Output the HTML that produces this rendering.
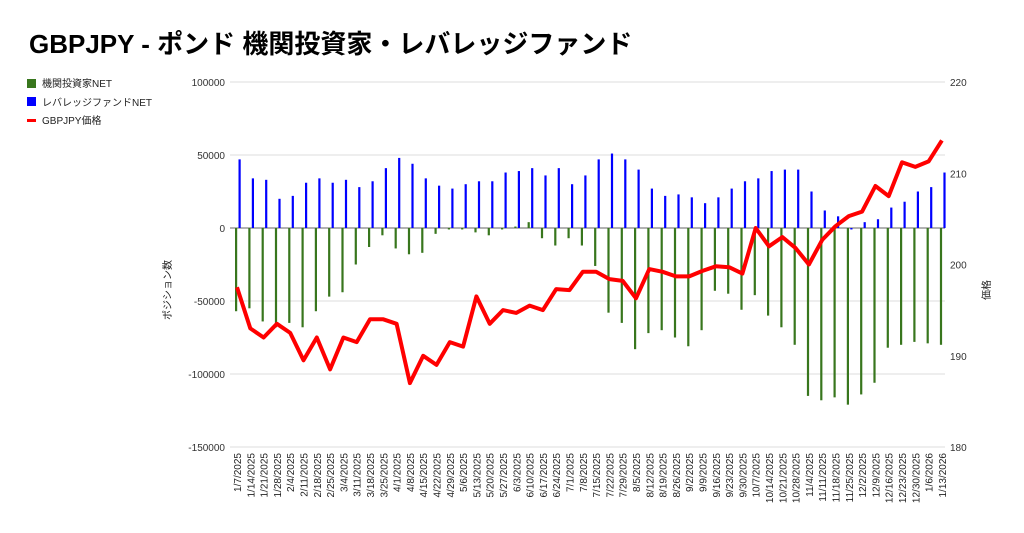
<!DOCTYPE html>
<html><head><meta charset="utf-8"><style>
body{margin:0;background:#fff;width:1024px;height:528px;overflow:hidden;font-family:"Liberation Sans","Noto Sans CJK JP",sans-serif}
</style></head><body>
<svg id="c" width="1024" height="528" xmlns="http://www.w3.org/2000/svg" style="font-family:'Liberation Sans','Noto Sans CJK JP',sans-serif">
<text x="29" y="53" font-size="26" font-weight="bold" fill="#000">GBPJPY - ポンド 機関投資家・レバレッジファンド</text>
<rect x="27" y="79" width="9" height="9" fill="#38761d"/>
<text x="42" y="87" font-size="10" fill="#222">機関投資家NET</text>
<rect x="27" y="97" width="9" height="9" fill="#0000ff"/>
<text x="42" y="106" font-size="10" fill="#222">レバレッジファンドNET</text>
<rect x="27" y="119" width="9" height="3" fill="#ff0000"/>
<text x="42" y="124" font-size="10" fill="#222">GBPJPY価格</text>
<text transform="translate(171,290) rotate(-90)" text-anchor="middle" font-size="10" fill="#222">ポジション数</text>
<text transform="translate(990,290) rotate(-90)" text-anchor="middle" font-size="10" fill="#222">価格</text>
<g id="g"></g>
</svg>
<script>
var g=document.getElementById('g'),s='';
function Y(v){return 228-v*73/50000}
function P(p){return 82+(220-p)*91.25/10}
[100000,50000,0,-50000,-100000,-150000].forEach(function(v){
 s+='<line x1="230" x2="945" y1="'+Y(v)+'" y2="'+Y(v)+'" stroke="'+(v==0?'#666':'#ddd')+'" stroke-width="1"/>';
 s+='<text x="225" y="'+(Y(v)+4)+'" text-anchor="end" font-size="10" fill="#333">'+v+'</text>';});
[220,210,200,190,180].forEach(function(p){s+='<text x="950" y="'+(P(p)+4)+'" font-size="10" fill="#333">'+p+'</text>';});
var gr=[-57,-55,-64,-68,-65,-68,-57,-47,-44,-25,-13,-5,-14,-18,-17,-4,-1,-1,-3,-5,-1,1,4,-7,-12,-7,-12,-26,-58,-65,-83,-72,-70,-75,-81,-70,-43,-45,-56,-46,-60,-68,-80,-115,-118,-116,-121,-114,-106,-82,-80,-78,-79,-80];
var bl=[47,34,33,20,22,31,34,31,33,28,32,41,48,44,34,29,27,30,32,32,38,39,41,36,41,30,36,47,51,47,40,27,22,23,21,17,21,27,32,34,39,40,40,25,12,8,-1,4,6,14,18,25,28,38];
var pr=[197.5,193,192,193.5,192.5,189.5,192,188.5,192,191.5,194,194,193.5,187,190,189,191.5,191,196.5,193.5,195,194.7,195.5,195,197.3,197.2,199.2,199.2,198.4,198.2,196.3,199.5,199.2,198.7,198.7,199.3,199.8,199.7,199,204,202,203,201.8,200,202.7,204.2,205.3,205.8,208.6,207.5,211.2,210.7,211.3,213.6];
var pts=[],d=new Date(2025,0,7);
for(var i=0;i<54;i++){var x=237+i*13.3;
 var a=Y(0),b=Y(gr[i]*1000);s+='<rect x="'+(x-2)+'" width="2.2" y="'+Math.min(a,b)+'" height="'+Math.abs(a-b)+'" fill="#38761d"/>';
 a=Y(0);b=Y(bl[i]*1000);s+='<rect x="'+(x+1.5)+'" width="2.2" y="'+Math.min(a,b)+'" height="'+Math.abs(a-b)+'" fill="#0000ff"/>';
 pts.push((x).toFixed(1)+','+P(pr[i]).toFixed(1));
 var lb=(d.getMonth()+1)+'/'+d.getDate()+'/'+d.getFullYear();
 s+='<text transform="translate('+(x+4)+',453) rotate(-90)" text-anchor="end" font-size="10" fill="#222">'+lb+'</text>';
 d.setDate(d.getDate()+7);}
s+='<polyline points="'+pts.join(' ')+'" fill="none" stroke="#ff0000" stroke-width="4" stroke-linejoin="round"/>';
g.innerHTML=s;
</script>
</body></html>
